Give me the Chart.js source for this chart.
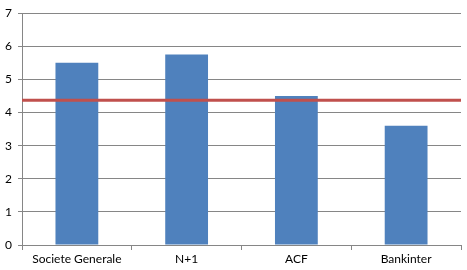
<!DOCTYPE html>
<html>
<head>
<meta charset="utf-8">
<script src="https://cdn.jsdelivr.net/npm/chart.js@4"></script>
<style>
html,body{margin:0;padding:0;background:#fff;}
canvas{display:block;}
</style>
</head>
<body>
<canvas id="c" width="467" height="270"></canvas>
<script>
const categories = ["Societe Generale", "N+1", "ACF", "Bankinter"];
const values = [5.5, 5.75, 4.5, 3.6];
const averageValue = 4.375;
const yTicks = [0, 1, 2, 3, 4, 5, 6, 7];

const avgLine = [{x: 0, y: averageValue}, {x: categories.length, y: averageValue}];

new Chart(document.getElementById('c'), {
  type: 'bar',
  data: {
    labels: categories,
    datasets: [
      {
        type: 'line',
        data: avgLine,
        xAxisID: 'x2',
        borderColor: '#C0504D',
        borderWidth: 3,
        pointRadius: 0,
        order: 0
      },
      {
        type: 'bar',
        data: values,
        xAxisID: 'x',
        backgroundColor: '#4F81BD',
        categoryPercentage: 1,
        barPercentage: 0.39,
        grouped: false,
        order: 1
      }
    ]
  },
  options: {
    responsive: false,
    animation: false,
    layout: {padding: {top: 5, right: 6, left: 0, bottom: 0}},
    plugins: {legend: {display: false}, tooltip: {enabled: false}},
    scales: {
      x: {
        type: 'category',
        offset: true,
        grid: {offset: true, drawOnChartArea: false, drawTicks: true, tickLength: 5, color: '#868686'},
        border: {color: '#868686', width: 1},
        ticks: {color: '#000', font: {family: 'Lato', size: 12}, padding: 2, maxRotation: 0},
        afterFit: s => { s.height = 25; }
      },
      x2: {
        type: 'linear',
        display: false,
        offset: false,
        min: 0,
        max: categories.length
      },
      y: {
        min: 0,
        max: 7,
        afterBuildTicks: s => { s.ticks = yTicks.map(v => ({value: v})); },
        grid: {color: '#868686', tickLength: 4},
        border: {color: '#868686', width: 1},
        ticks: {color: '#000', font: {family: 'Lato', size: 12}, padding: 6},
        afterFit: s => { s.width = 22; }
      }
    }
  }
});
</script>
</body>
</html>
